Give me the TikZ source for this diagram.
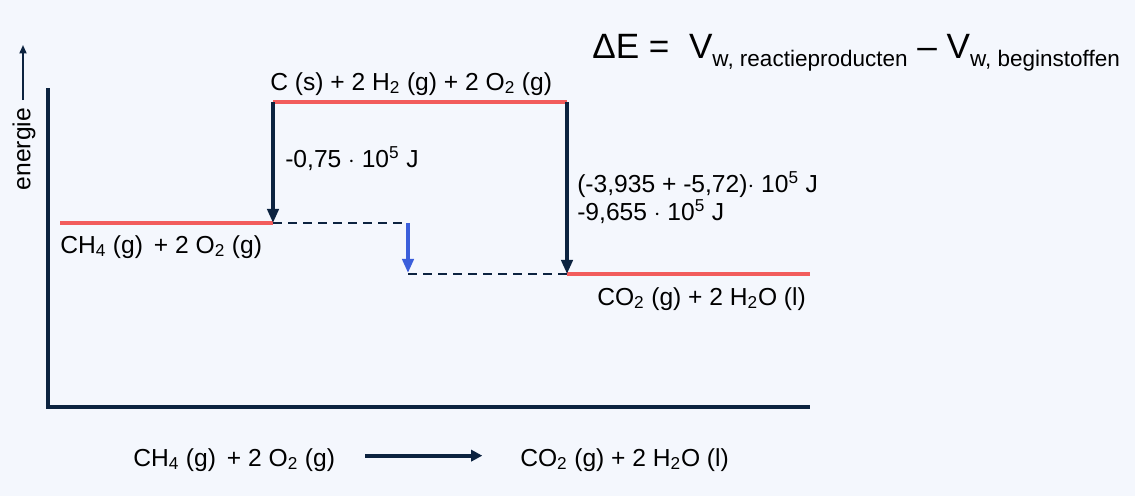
\documentclass[tikz,border=0pt]{standalone}
\usepackage{fontspec}
\setmainfont{Liberation Sans}
\usetikzlibrary{arrows.meta}
\definecolor{navy}{RGB}{12,35,64}
\definecolor{levelred}{RGB}{242,92,92}
\definecolor{stepblue}{RGB}{59,95,219}
\definecolor{paper}{RGB}{244,247,253}
\newcommand{\lowtext}[1]{\raisebox{-0.45ex}{\fontsize{16}{18}\selectfont #1}}
\tikzset{
    level/.style={draw=levelred, line width=2.6pt},
    jump/.style={draw=navy, line width=2.6pt, -{Triangle[width=8pt,length=10pt]}},
    guide/.style={draw=navy, line width=1.8pt, dash pattern=on 6.4pt off 4.3pt},
    label/.style={font=\fontsize{17.5}{20}\selectfont, inner sep=0pt, anchor=base west, text=black}
}
\begin{document}
\begin{tikzpicture}[x=0.025cm, y=-0.025cm]
        \fill[paper] (0,0) rectangle (1135,496);
        \useasboundingbox (0,0) rectangle (1135,496);
        % axes
        \coordinate (o) at (48,407);
        \coordinate (ytop) at (48,88);
        \coordinate (xend) at (810,407);
        \draw[navy, line width=2.8pt] (ytop) -- (o) -- (xend);
        \node[label, rotate=90, anchor=center] (en) at (24,149) {energie};
        \coordinate (ea) at (23,100);
        \coordinate (eb) at (23,45);
        \draw[navy, line width=1.2pt, -{Triangle[width=5pt,length=6pt]}] (ea) -- (eb);
        % energy levels
        \coordinate (a1) at (60,223);
        \coordinate (a2) at (273,223);
        \coordinate (b1) at (273,102);
        \coordinate (b2) at (567,102);
        \coordinate (c1) at (567,274);
        \coordinate (c2) at (810,274);
        \coordinate (d1) at (408,223);
        \coordinate (d2) at (408,274);
        \coordinate (d3) at (408,273);
        \path[level] (a1) -- (a2);
        \path[level] (b1) -- (b2);
        \path[level] (c1) -- (c2);
        \path[guide] (a2) -- (d1);
        \path[guide] (d2) -- (c1);
        \path[jump] (b1) -- (a2);
        \path[jump] (b2) -- (c1);
        \path[jump, draw=stepblue] (d1) -- (d3);
        % labels
        \begin{scope}[every node/.style={label}]
            \node (top) at (270,90) {C (s) + 2 H\textsubscript{2} (g) + 2 O\textsubscript{2} (g)};
            \node (start) at (60,253) {CH\textsubscript{4} (g)\, + 2 O\textsubscript{2} (g)};
            \node (end) at (597,305) {CO\textsubscript{2} (g) + 2 H\textsubscript{2}O (l)};
            \node (e1) at (285,167) {-0,75 $\cdot$ 10\textsuperscript{5} J};
            \node (e2) at (577,192) {(-3,935 + -5,72)$\cdot$ 10\textsuperscript{5} J};
            \node (e3) at (577,220) {-9,655 $\cdot$ 10\textsuperscript{5} J};
            \node (r1) at (133,466) {CH\textsubscript{4} (g)\, + 2 O\textsubscript{2} (g)};
            \node (r2) at (520,466) {CO\textsubscript{2} (g) + 2 H\textsubscript{2}O (l)};
            \node[font=\fontsize{25}{30}\selectfont] (dE) at (592,58) {ΔE =\; V\lowtext{w, reactieproducten} – V\lowtext{w, beginstoffen}};
        \end{scope}
        \draw[navy, line width=2.8pt, -{Triangle[width=8pt,length=8pt]}] (r1.east) ++(30,-4) coordinate (ra) -- ++(117,0) coordinate (rb);
    \end{tikzpicture}
\end{document}
